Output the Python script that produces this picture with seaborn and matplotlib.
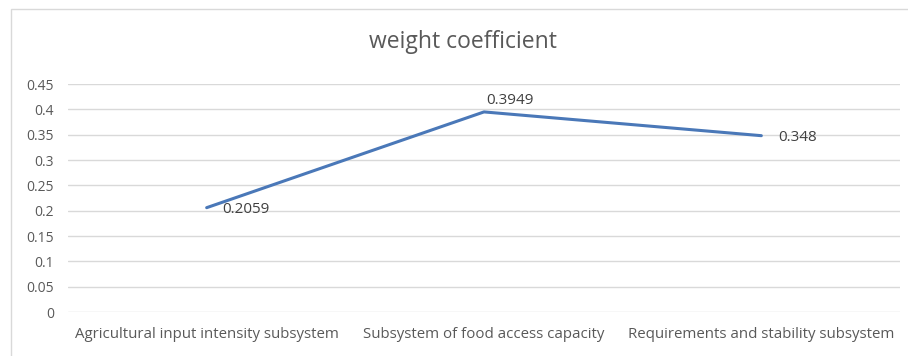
import matplotlib
matplotlib.use("Agg")
import matplotlib.pyplot as plt
import seaborn as sns
import pandas as pd
from matplotlib.patches import Rectangle

categories = ["Agricultural input intensity subsystem",
              "Subsystem of food access capacity",
              "Requirements and stability subsystem"]
values = [0.2059, 0.3949, 0.348]
value_labels = ["0.2059", "0.3949", "0.348"]
yticks = [0, 0.05, 0.1, 0.15, 0.2, 0.25, 0.3, 0.35, 0.4, 0.45]
ytick_labels = ["0", "0.05", "0.1", "0.15", "0.2", "0.25", "0.3", "0.35", "0.4", "0.45"]
title = "weight coefficient"

sns.set_theme(style="white")
plt.rcParams['font.family'] = ['Open Sans', 'DejaVu Sans']

df = pd.DataFrame({"cat": categories, "val": values})

fig = plt.figure(figsize=(9.08, 3.56), dpi=100)
ax = fig.add_axes([68/908, 1-312/356, (900-68)/908, (312-84)/356])

# chart frame
fig.patches.append(Rectangle((11/908, -0.05), 1.2, 1-9/356+0.05, transform=fig.transFigure,
                             fill=False, edgecolor="#d9d9d9", linewidth=1.0))

sns.lineplot(data=df, x="cat", y="val", ax=ax, color="#4a78b8", linewidth=2.2, sort=False)

ax.set_xlim(-0.5, 2.5)
ax.set_ylim(0, 0.45)
ax.set_yticks(yticks)
ax.set_yticklabels(ytick_labels)
ax.grid(axis="y", color="#d9d9d9", linewidth=1.0)
ax.grid(axis="x", visible=False)
for s in ax.spines.values():
    s.set_visible(False)
ax.set_xlabel("")
ax.set_ylabel("")
ax.tick_params(axis="y", length=0, labelsize=10, colors="#595959", pad=10)
ax.tick_params(axis="x", length=0, labelsize=10.8, colors="#595959", pad=11)

offsets = [(11, -1), (1.5, 8), (12, -1.5)]
for i, (v, lab) in enumerate(zip(values, value_labels)):
    ax.annotate(lab, (i, v), xytext=offsets[i], textcoords="offset points",
                ha="left", va="center", fontsize=11, color="#404040")

fig.text(463/908, 1-42/356, title, ha="center", va="center", fontsize=16.5, color="#595959")

fig.savefig("out.png", dpi=100)
